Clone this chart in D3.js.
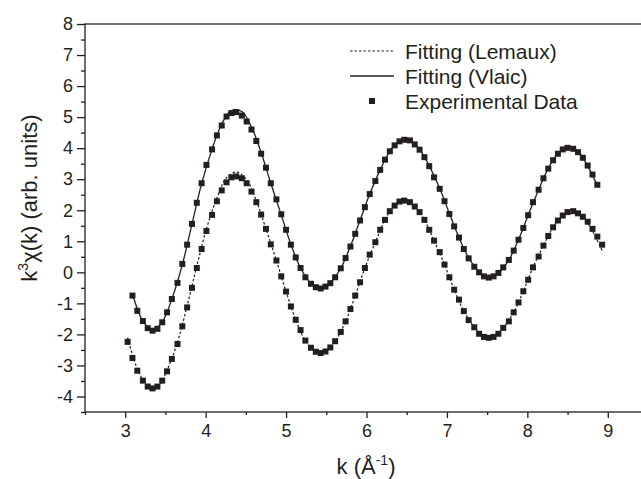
<!DOCTYPE html>
<html>
<head>
<meta charset="utf-8">
<script src="https://cdn.jsdelivr.net/npm/d3@7"></script>
<style>
  body { margin: 0; background: #fff; }
  svg { display: block; font-family: "Liberation Sans", Arial, sans-serif; }
</style>
</head>
<body>
<svg id="chart" width="641" height="479"></svg>
<script>
// k grid of the experimental points (A^-1)
var kData = [
  3.03, 3.09, 3.15, 3.22, 3.28, 3.34, 3.40, 3.46, 3.52, 3.58,
  3.65, 3.71, 3.77, 3.83, 3.89, 3.95, 4.01, 4.08, 4.14, 4.20,
  4.26, 4.32, 4.38, 4.45, 4.51, 4.57, 4.63, 4.69, 4.75, 4.81,
  4.88, 4.94, 5.00, 5.06, 5.12, 5.18, 5.24, 5.31, 5.37, 5.43,
  5.49, 5.55, 5.61, 5.68, 5.74, 5.80, 5.86, 5.92, 5.98, 6.04,
  6.11, 6.17, 6.23, 6.29, 6.35, 6.41, 6.47, 6.54, 6.60, 6.66,
  6.72, 6.78, 6.84, 6.91, 6.97, 7.03, 7.09, 7.15, 7.21, 7.27,
  7.34, 7.40, 7.46, 7.52, 7.58, 7.64, 7.70, 7.77, 7.83, 7.89,
  7.95, 8.01, 8.07, 8.14, 8.20, 8.26, 8.32, 8.38, 8.44, 8.50,
  8.57, 8.63, 8.69, 8.75, 8.81, 8.87, 8.93
];

// experimental data, upper set (fitted by Vlaic)
var expUpper = [
  null, -0.75, -1.24, -1.57, -1.80, -1.88, -1.82, -1.61, -1.29, -0.86,
  -0.34, 0.27, 0.89, 1.56, 2.24, 2.87, 3.46, 3.96, 4.41, 4.73,
  5.02, 5.13, 5.16, 5.05, 4.86, 4.60, 4.23, 3.82, 3.37, 2.87,
  2.35, 1.87, 1.37, 0.89, 0.48, 0.14, -0.16, -0.37, -0.48, -0.52,
  -0.46, -0.35, -0.16, 0.13, 0.46, 0.83, 1.24, 1.67, 2.10, 2.52,
  2.94, 3.30, 3.63, 3.90, 4.09, 4.22, 4.27, 4.25, 4.12, 3.95,
  3.71, 3.42, 3.06, 2.69, 2.29, 1.88, 1.48, 1.12, 0.75, 0.45,
  0.18, 0.00, -0.13, -0.17, -0.13, -0.02, 0.16, 0.40, 0.70, 1.05,
  1.43, 1.84, 2.26, 2.66, 3.03, 3.34, 3.61, 3.82, 3.96, 4.01,
  3.98, 3.87, 3.69, 3.44, 3.15, 2.82, null
];

// experimental data, lower set (fitted by Lemaux)
var expLower = [
  -2.24, -2.76, -3.17, -3.49, -3.68, -3.74, -3.68, -3.49, -3.19, -2.79,
  -2.31, -1.74, -1.13, -0.50, 0.14, 0.75, 1.33, 1.85, 2.29, 2.64,
  2.90, 3.06, 3.09, 3.03, 2.87, 2.60, 2.26, 1.86, 1.40, 0.90,
  0.38, -0.13, -0.62, -1.10, -1.53, -1.86, -2.20, -2.43, -2.56, -2.60,
  -2.55, -2.42, -2.22, -1.92, -1.58, -1.18, -0.75, -0.32, 0.14, 0.57,
  0.97, 1.37, 1.69, 1.97, 2.15, 2.28, 2.31, 2.26, 2.12, 1.94,
  1.69, 1.37, 1.02, 0.65, 0.25, -0.16, -0.56, -0.88, -1.25, -1.54,
  -1.77, -1.98, -2.08, -2.11, -2.08, -1.98, -1.79, -1.58, -1.29, -0.97,
  -0.61, -0.24, 0.16, 0.51, 0.86, 1.17, 1.45, 1.67, 1.83, 1.94,
  1.97, 1.90, 1.79, 1.63, 1.40, 1.15, 0.89
];

// Vlaic fit, at the odd points of kData
var vlaicFit = [
  -0.70, -1.57, -1.86, -1.60, -0.86, 0.25, 1.55, 2.86, 3.97, 4.78,
  5.21, 5.18, 4.68, 3.86, 2.87, 1.85, 0.90, 0.14, -0.35, -0.50,
  -0.33, 0.13, 0.84, 1.68, 2.52, 3.30, 3.90, 4.24, 4.26, 3.96,
  3.43, 2.71, 1.90, 1.12, 0.47, 0.02, -0.16, -0.03, 0.40, 1.05,
  1.84, 2.66, 3.35, 3.83, 4.03, 3.90, 3.42, 2.80
];

// Lemaux fit, at the even points of kData
var lemauxFit = [
  -2.10, -3.10, -3.66, -3.70, -3.15, -2.25, -1.08, 0.20, 1.40, 2.40,
  3.05, 3.23, 2.98, 2.30, 1.40, 0.38, -0.62, -1.53, -2.20, -2.56,
  -2.55, -2.22, -1.58, -0.75, 0.14, 0.97, 1.69, 2.17, 2.33, 2.13,
  1.69, 1.02, 0.25, -0.56, -1.25, -1.77, -2.08, -2.08, -1.79, -1.29,
  -0.61, 0.16, 0.86, 1.45, 1.84, 1.98, 1.78, 1.33, 0.70
];

var xTicks = [3, 4, 5, 6, 7, 8, 9];
var yTicks = [-4, -3, -2, -1, 0, 1, 2, 3, 4, 5, 6, 7, 8];
var legendLabels = ["Fitting (Lemaux)", "Fitting (Vlaic)", "Experimental Data"];

(function () {
    var ink = "#231f20";
    var svg = d3.select("#chart");
    var pL = 85, pR = 648, pT = 24, pB = 412;

    var x = d3.scaleLinear().domain([2.5, 9.5]).range([pL, pR]);
    var y = d3.scaleLinear().domain([-4.5, 8]).range([pB, pT]);

    // frame
    svg.append("rect")
        .attr("x", pL).attr("y", pT)
        .attr("width", pR - pL).attr("height", pB - pT)
        .attr("fill", "none").attr("stroke", ink).attr("stroke-width", 1.3);

    // axes
    var xMinor = [2.5, 3.5, 4.5, 5.5, 6.5, 7.5, 8.5, 9.5];
    var yMinor = [-4.5, -3.5, -2.5, -1.5, -0.5, 0.5, 1.5, 2.5, 3.5, 4.5, 5.5, 6.5, 7.5];

    var gx = svg.append("g").attr("transform", "translate(0," + pB + ")");
    gx.call(d3.axisBottom(x).tickValues(xMinor).tickSize(3).tickFormat(""));
    gx.append("g").call(d3.axisBottom(x).tickValues(xTicks).tickSize(6).tickPadding(6)
        .tickFormat(function (d) { return String(d); }));

    var gy = svg.append("g").attr("transform", "translate(" + pL + ",0)");
    gy.call(d3.axisLeft(y).tickValues(yMinor).tickSize(4).tickFormat(""));
    gy.append("g").call(d3.axisLeft(y).tickValues(yTicks).tickSize(8).tickPadding(4)
        .tickFormat(function (d) { return String(d); }));

    svg.selectAll(".domain").remove();
    svg.selectAll(".tick line").attr("stroke", ink).attr("stroke-width", 1.3);
    svg.selectAll(".tick text").attr("fill", ink).style("font-size", "18px")
        .style("font-family", "'Liberation Sans', Arial, sans-serif");

    // curves
    var plot = svg.append("g");
    var line = d3.line()
        .x(function (d) { return x(d[0]); })
        .y(function (d) { return y(d[1]); })
        .curve(d3.curveCatmullRom.alpha(0.5));

    var vlaicPts = kData.filter(function (d, i) { return i % 2 === 1; })
        .map(function (k, i) { return [k, vlaicFit[i]]; });
    var lemauxPts = kData.filter(function (d, i) { return i % 2 === 0; })
        .map(function (k, i) { return [k, lemauxFit[i]]; });

    plot.append("path").datum(lemauxPts)
        .attr("fill", "none").attr("stroke", ink).attr("stroke-width", 1.2)
        .attr("stroke-dasharray", "2.5,2").attr("d", line);
    plot.append("path").datum(vlaicPts)
        .attr("fill", "none").attr("stroke", ink).attr("stroke-width", 1.3)
        .attr("d", line);

    var pts = [];
    kData.forEach(function (k, i) {
        if (expUpper[i] !== null) pts.push([k, expUpper[i]]);
        pts.push([k, expLower[i]]);
    });
    var sq = 6;
    plot.selectAll("rect.pt").data(pts).enter().append("rect")
        .attr("class", "pt")
        .attr("x", function (d) { return x(d[0]) - sq / 2; })
        .attr("y", function (d) { return y(d[1]) - sq / 2; })
        .attr("width", sq).attr("height", sq)
        .attr("fill", ink);

    // legend
    var lg = svg.append("g").attr("transform", "translate(350,51)");
    legendLabels.forEach(function (t, i) {
        var row = lg.append("g").attr("transform", "translate(0," + (i * 25) + ")");
        if (i === 0) {
            row.append("line").attr("x1", 0).attr("x2", 44).attr("y1", 0).attr("y2", 0)
                .attr("stroke", ink).attr("stroke-width", 1.1).attr("stroke-dasharray", "2.5,2");
        } else if (i === 1) {
            row.append("line").attr("x1", 0).attr("x2", 44).attr("y1", 0).attr("y2", 0)
                .attr("stroke", ink).attr("stroke-width", 1.3);
        } else {
            row.append("rect").attr("x", 22 - sq / 2).attr("y", -sq / 2)
                .attr("width", sq).attr("height", sq).attr("fill", ink);
        }
        row.append("text").attr("x", 55).attr("y", 7.5)
            .attr("fill", ink).style("font-size", "21px").text(t);
    });

    // axis titles
    var xt = svg.append("text").attr("x", 366).attr("y", 474)
        .attr("text-anchor", "middle").attr("fill", ink).style("font-size", "22px");
    xt.append("tspan").text("k (\u00c5");
    xt.append("tspan").attr("dy", -9).style("font-size", "14px").text("-1");
    xt.append("tspan").attr("dy", 9).text(")");

    var yt = svg.append("text").attr("transform", "translate(37,198) rotate(-90)")
        .attr("text-anchor", "middle").attr("fill", ink).style("font-size", "22px");
    yt.append("tspan").text("k");
    yt.append("tspan").attr("dy", -9).style("font-size", "14px").text("3");
    yt.append("tspan").attr("dy", 9).text("\u03c7(k) (arb. units)");
})();
</script>
</body>
</html>
